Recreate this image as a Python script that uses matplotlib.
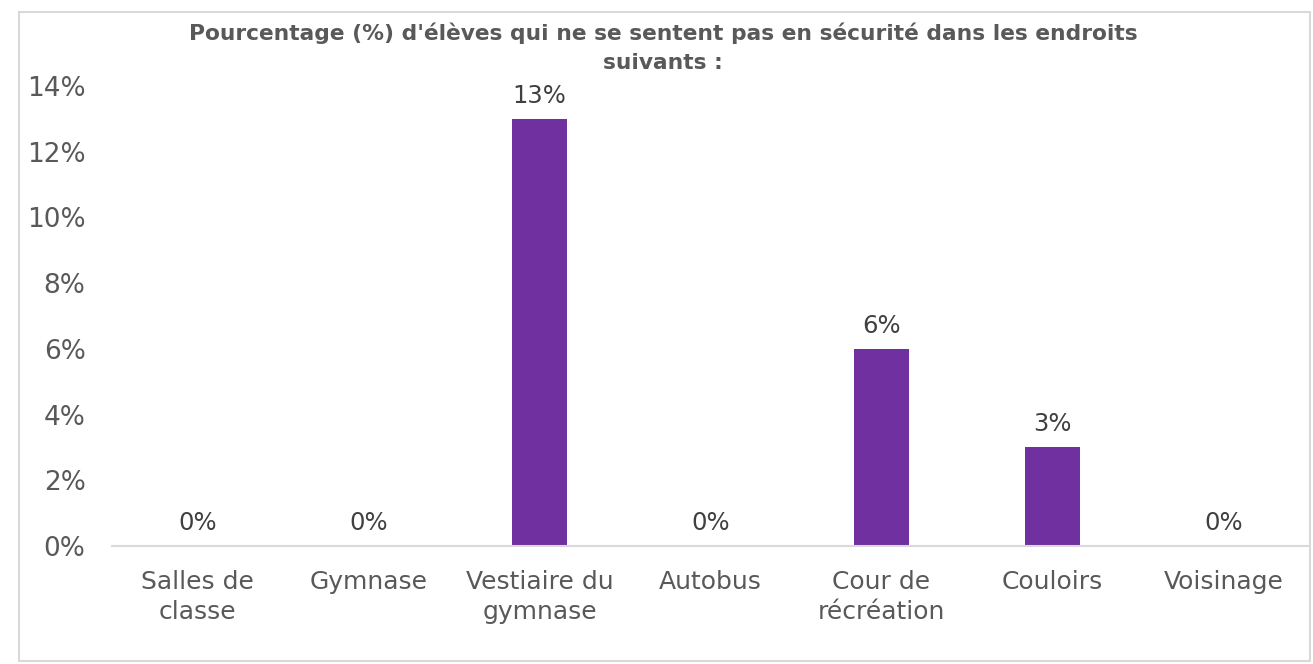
import matplotlib.pyplot as plt
from matplotlib.patches import Rectangle
from matplotlib.ticker import PercentFormatter

# data
categories = ["Salles de\nclasse", "Gymnase", "Vestiaire du\ngymnase", "Autobus",
              "Cour de\nrécréation", "Couloirs", "Voisinage"]
values = [0.00, 0.00, 0.13, 0.00, 0.06, 0.03, 0.00]
yticks = [0, 0.02, 0.04, 0.06, 0.08, 0.10, 0.12, 0.14]
title = "Pourcentage (%) d'élèves qui ne se sentent pas en sécurité dans les endroits\nsuivants :"

plt.rcParams['font.family'] = ['DejaVu Sans']
grey = '#595959'

fig = plt.figure(figsize=(13.13, 6.64), dpi=100)
# light border around the whole chart
fig.patches.append(Rectangle((0.0145, 0.004), 0.983, 0.978, transform=fig.transFigure,
                             fill=False, edgecolor='#d9d9d9', linewidth=1.5))

ax = fig.add_axes([0.0853, 0.1777, 0.9117, 0.6928])
x = list(range(len(categories)))
bars = ax.bar(x, values, width=0.32, color='#7030A0')

for xi, v in zip(x, values):
    ax.annotate(f"{v*100:.0f}%", (xi, v), xytext=(0, 8), textcoords='offset points',
                ha='center', va='bottom', fontsize=17.5, color='#404040')

ax.set_xlim(-0.5, len(categories) - 0.5)
ax.set_ylim(0, 0.14)
ax.set_yticks(yticks)
ax.yaxis.set_major_formatter(PercentFormatter(1.0, decimals=0))
ax.set_xticks(x)
ax.set_xticklabels(categories, linespacing=1.35)
ax.tick_params(axis='y', length=0, pad=19, labelsize=19, labelcolor=grey)
ax.tick_params(axis='x', length=0, pad=17, labelsize=18, labelcolor=grey)

for side in ['top', 'right', 'left']:
    ax.spines[side].set_visible(False)
ax.spines['bottom'].set_color('#d9d9d9')
ax.spines['bottom'].set_linewidth(1.5)

fig.text(0.505, 0.966, title, ha='center', va='top', fontsize=15.7,
         fontweight='bold', color=grey, linespacing=1.55)

plt.savefig('out.png', dpi=100)
plt.close()
